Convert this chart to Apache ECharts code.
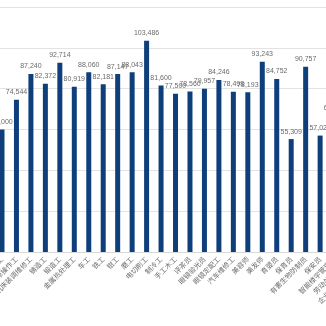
<!DOCTYPE html>
<html><head><meta charset="utf-8">
<script src="https://cdn.jsdelivr.net/npm/echarts@6/dist/echarts.min.js"></script>
<style>html,body{margin:0;padding:0;background:#fff;overflow:hidden;width:326px;height:326px;position:relative}#c{position:absolute;left:-40px;top:0;width:420px;height:326px}</style>
</head><body><div id="c"></div>
<script>
const categories = ["焊工","数控机床操作工","机床装调维修工","铸造工","锻造工","金属热处理工","车工","铣工","钳工","磨工","电切削工","制冷工","手工木工","评茶员","眼镜验光员","眼镜定配工","汽车维修工","美容师","美发师","育婴员","保育员","有害生物防制员","保安员","智能楼宇管理员","劳动关系协调员","企业人力资源管理师"];
const salaries = [60000,74544,87240,82372,92714,80919,88060,82181,87147,88043,103486,81600,77500,78560,79957,84246,78498,78193,93243,84752,55309,90757,57022,66800,70000,72000];
const yTicks = {min:0, max:120000, interval:20000};

const chart = echarts.init(document.getElementById('c'), null, {renderer:'canvas'});
const band = 14.46;
const left = 42 - band/2;
const width = band*categories.length;
chart.setOption({
  animation:false,
  grid:{left:left, top:7, width:width, bottom:74, containLabel:false, outerBoundsMode:'none'},
  xAxis:{type:'category', data:categories,
    axisLine:{show:true, lineStyle:{color:'#d9d9d9'}},
    axisTick:{show:false},
    axisLabel:{interval:0, rotate:45, fontSize:7, color:'#6b6b6b', margin:6, fontFamily:'Noto Sans CJK SC'}},
  yAxis:{type:'value', min:yTicks.min, max:yTicks.max, interval:yTicks.interval,
    axisLabel:{show:false}, axisLine:{show:false}, axisTick:{show:false},
    splitLine:{lineStyle:{color:'#e3e3e3', width:1}}},
  series:[{type:'bar', data:salaries, barWidth:5,
    itemStyle:{color:'#0f3f7a'},
    label:{show:true, position:'top', distance:4, fontSize:7, color:'#6b6b6b', fontFamily:'Liberation Sans',
      formatter:p=>p.value.toLocaleString('en-US')}}]
});
</script></body></html>
